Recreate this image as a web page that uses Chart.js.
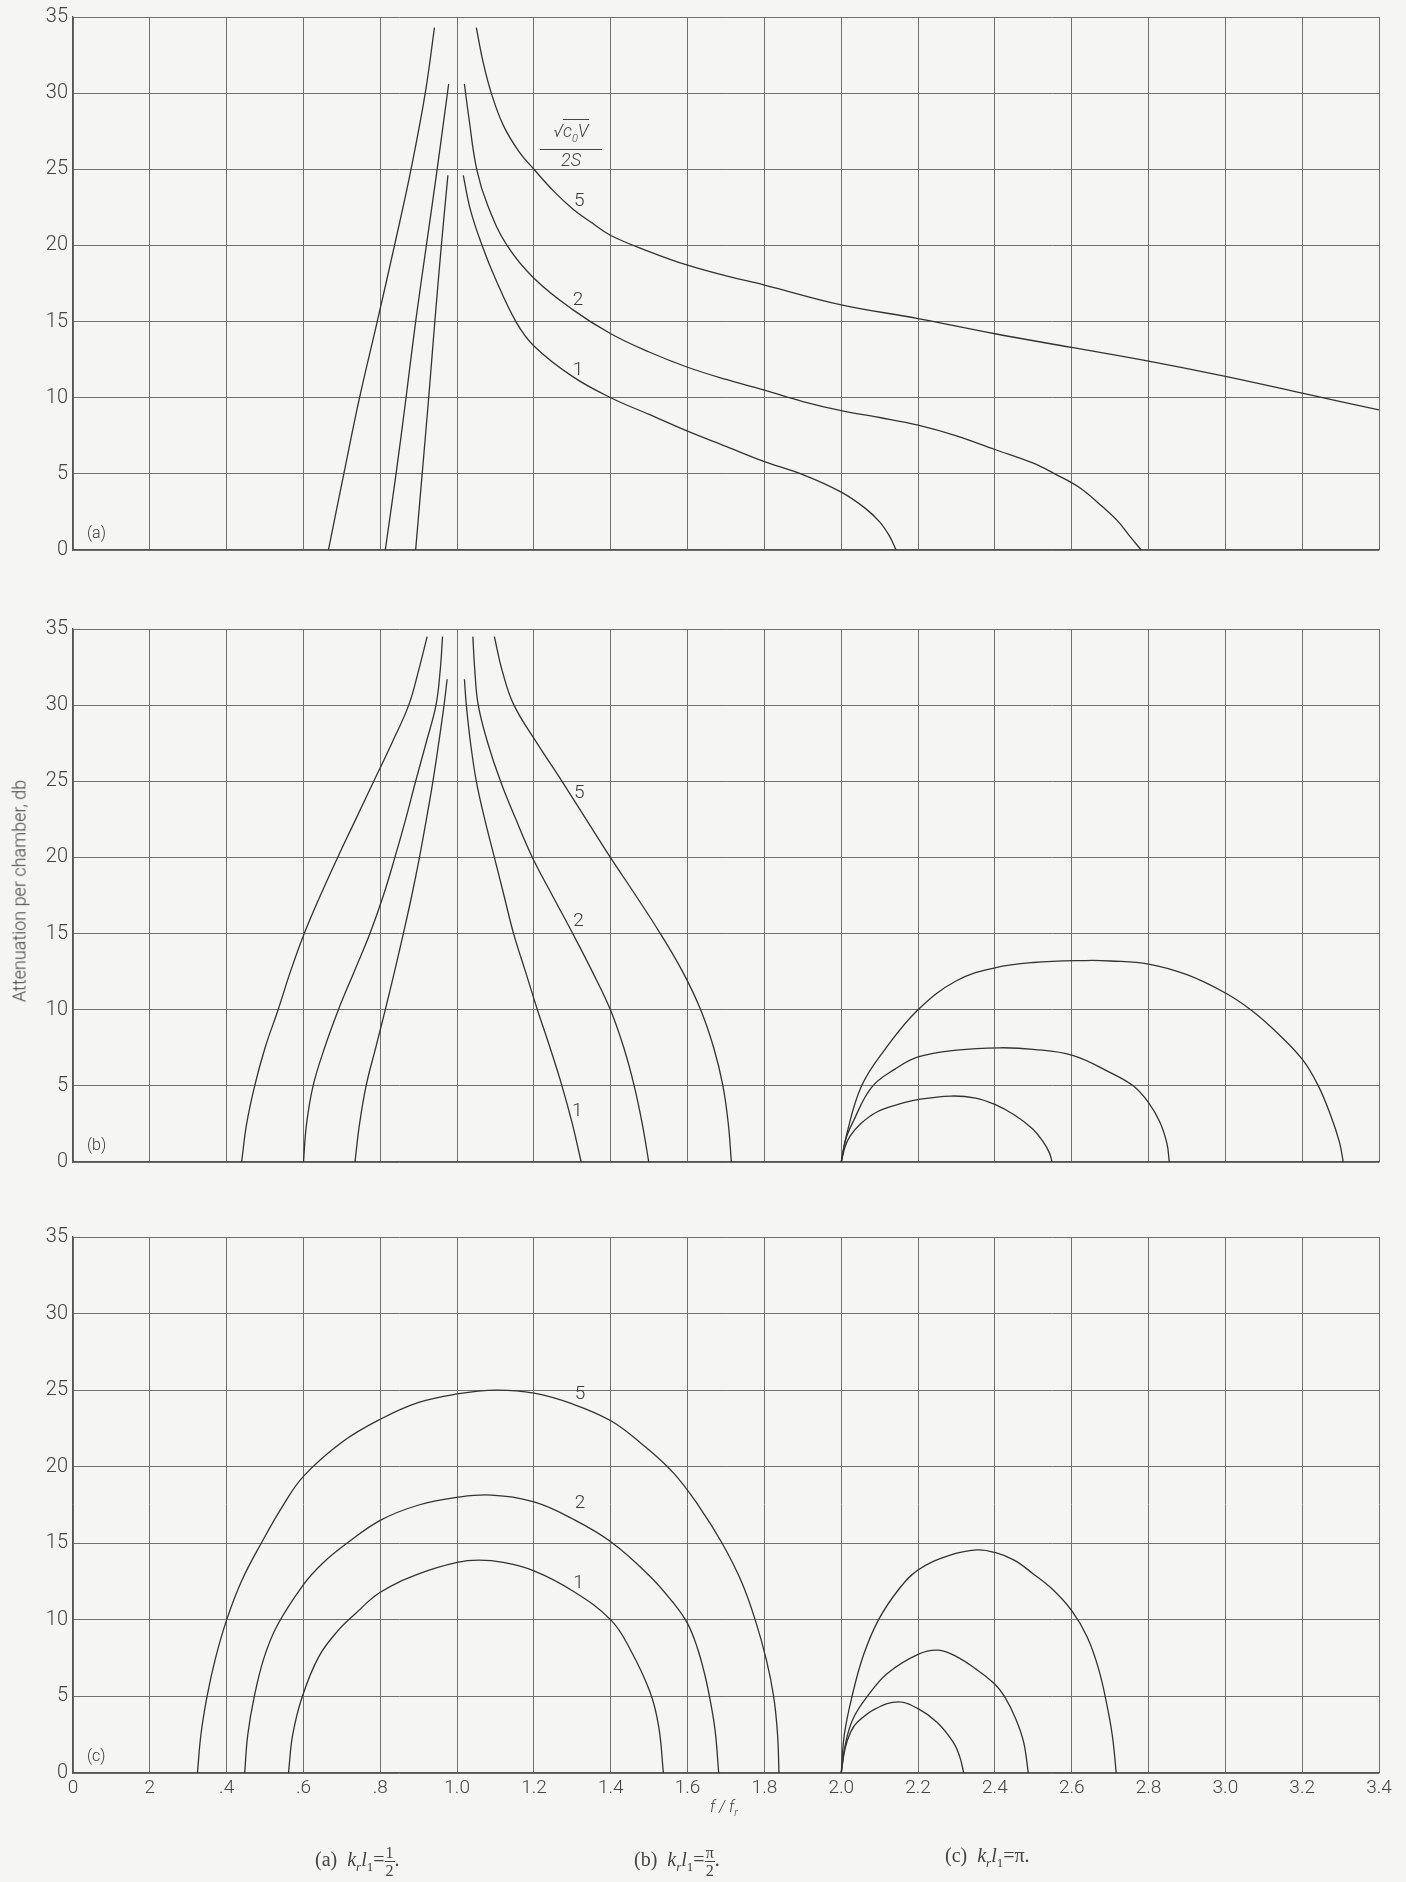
<!DOCTYPE html>
<html>
<head>
<meta charset="utf-8">
<script src="https://cdn.jsdelivr.net/npm/chart.js@4.4.1/dist/chart.umd.min.js"></script>
<style>
  body { margin: 0; background: #f5f5f3; width: 1406px; height: 1882px; position: relative; overflow: hidden;
         font-family: Roboto, "DejaVu Sans", sans-serif; color: #3a3a3a; }
  canvas { position: absolute; left: 0; }
  .ytitle { position: absolute; left: 19px; top: 891px; transform: translate(-50%, -50%) rotate(-90deg);
            white-space: nowrap; font-size: 18px; font-weight: 300; color: #444; }
  .xtitle { position: absolute; left: 710px; top: 1797px; font-size: 16px; font-style: italic; font-weight: 300; color: #444; }
  .hdr { position: absolute; left: 540px; top: 121px; width: 62px; text-align: center; font-size: 18px;
         font-style: italic; font-weight: 300; background: #f5f5f3; line-height: 19px; color: #444; }
  .hdr .num { border-bottom: 1px solid #444; padding-bottom: 1px; }
  .hdr .rad { border-top: 1px solid #444; }
  .cap { position: absolute; top: 1844px; font-family: "Liberation Serif", "DejaVu Serif", serif; font-size: 20px;
         color: #444; white-space: nowrap; }
  .frac { display: inline-block; vertical-align: middle; text-align: center; font-size: 16px; line-height: 17px; }
  .frac span { display: block; }
  .frac .top { border-bottom: 1px solid #444; padding: 0 1px; }
</style>
</head>
<body>
<canvas id="chartA" width="1406" height="600" style="top:0px"></canvas>
<canvas id="chartB" width="1406" height="600" style="top:600px"></canvas>
<canvas id="chartC" width="1406" height="682" style="top:1200px"></canvas>

<div class="ytitle">Attenuation per chamber, db</div>
<div class="xtitle">f / f<sub style="font-size:11px">r</sub></div>
<div class="hdr"><div class="num">√<span class="rad">c<sub style="font-size:11px">0</sub>V</span></div><div>2S</div></div>

<div class="cap" style="left:315px">(a)&nbsp; <i>k<sub style="font-size:13px">r</sub>l</i><sub style="font-size:13px">1</sub>=<span class="frac"><span class="top">1</span><span>2</span></span>.</div>
<div class="cap" style="left:634px">(b)&nbsp; <i>k<sub style="font-size:13px">r</sub>l</i><sub style="font-size:13px">1</sub>=<span class="frac"><span class="top">π</span><span>2</span></span>.</div>
<div class="cap" style="left:945px">(c)&nbsp; <i>k<sub style="font-size:13px">r</sub>l</i><sub style="font-size:13px">1</sub>=π.</div>

<script>
// axis ticks
const xTickLabels = ['0', '2', '.4', '.6', '.8', '1.0', '1.2', '1.4', '1.6', '1.8',
                     '2.0', '2.2', '2.4', '2.6', '2.8', '3.0', '3.2', '3.4'];
const curveParams = ['1', '2', '5'];

// (a) k_r l_1 = 1/2  -- [f/fr, db]
const a1Left  = [[0.892, 0], [0.909, 5], [0.926, 10], [0.942, 15], [0.959, 20], [0.976, 24.6]];
const a2Left  = [[0.813, 0], [0.841, 5], [0.867, 10], [0.892, 15], [0.920, 20], [0.948, 25], [0.978, 30.6]];
const a5Left  = [[0.665, 0], [0.705, 5], [0.746, 10], [0.792, 15], [0.837, 20], [0.880, 25], [0.917, 30], [0.941, 34.3]];
const a1Right = [[1.016, 24.6], [1.035, 22.3], [1.065, 20], [1.1, 17.8], [1.153, 15], [1.2, 13.4], [1.3, 11.4],
                 [1.4, 10], [1.5, 8.9], [1.6, 7.8], [1.7, 6.8], [1.8, 5.8], [1.9, 4.95],
                 [2.0, 3.8], [2.062, 2.75], [2.1, 1.85], [2.125, 0.94], [2.143, 0]];
const a2Right = [[1.019, 30.6], [1.03, 28.5], [1.051, 25], [1.08, 22.6], [1.13, 20], [1.2, 17.85], [1.3, 15.8],
                 [1.4, 14.2], [1.5, 13.0], [1.6, 12.0], [1.7, 11.2], [1.8, 10.5], [1.9, 9.75], [2.0, 9.15],
                 [2.1, 8.7], [2.2, 8.2], [2.3, 7.5], [2.4, 6.6], [2.5, 5.7], [2.556, 5.0], [2.62, 4.1],
                 [2.682, 2.8], [2.72, 1.9], [2.75, 0.94], [2.781, 0]];
const a5Right = [[1.050, 34.3], [1.068, 32], [1.089, 30], [1.12, 27.9], [1.16, 26.2], [1.2, 25], [1.25, 23.6],
                 [1.301, 22.4], [1.35, 21.5], [1.4, 20.65], [1.5, 19.6], [1.6, 18.7], [1.7, 18.0], [1.8, 17.4],
                 [2.0, 16.1], [2.2, 15.2], [2.4, 14.2], [2.6, 13.3], [2.8, 12.4], [3.0, 11.4], [3.2, 10.3], [3.4, 9.2]];
const aLabelAt = [[1.315, 11.8], [1.315, 16.4], [1.318, 22.9]];

// (b) k_r l_1 = pi/2
const b1Left  = [[0.734, 0], [0.746, 2.5], [0.763, 5], [0.788, 7.5], [0.813, 10], [0.837, 12.5], [0.860, 15],
                 [0.882, 17.5], [0.902, 20], [0.920, 22.5], [0.937, 25], [0.952, 27.5], [0.966, 30], [0.974, 31.7]];
const b2Left  = [[0.600, 0], [0.608, 2.5], [0.625, 5], [0.655, 7.5], [0.691, 10], [0.732, 12.5], [0.773, 15],
                 [0.808, 17.5], [0.838, 20], [0.866, 22.5], [0.892, 25], [0.919, 27.5], [0.945, 30], [0.956, 32.3],
                 [0.962, 34.5]];
const b5Left  = [[0.439, 0], [0.452, 2.5], [0.473, 5], [0.500, 7.5], [0.534, 10], [0.566, 12.5], [0.602, 15],
                 [0.644, 17.5], [0.689, 20], [0.736, 22.5], [0.783, 25], [0.830, 27.5], [0.874, 30], [0.900, 32.3],
                 [0.922, 34.5]];
const b1Right = [[1.019, 31.7], [1.024, 30], [1.035, 27.5], [1.050, 25], [1.072, 22.5], [1.097, 20], [1.122, 17.5],
                 [1.147, 15], [1.178, 12.5], [1.209, 10], [1.242, 7.5], [1.273, 5], [1.300, 2.5], [1.323, 0]];
const b2Right = [[1.041, 34.5], [1.046, 32.3], [1.055, 30], [1.080, 27.5], [1.113, 25], [1.153, 22.5], [1.196, 20],
                 [1.248, 17.5], [1.301, 15], [1.352, 12.5], [1.399, 10], [1.434, 7.5], [1.461, 5], [1.482, 2.5],
                 [1.499, 0]];
const b5Right = [[1.097, 34.5], [1.118, 32.2], [1.148, 30], [1.208, 27.5], [1.273, 25], [1.336, 22.5], [1.399, 20],
                 [1.465, 17.5], [1.529, 15], [1.587, 12.5], [1.634, 10], [1.668, 7.5], [1.692, 5], [1.706, 2.5],
                 [1.714, 0]];
const b1Arc   = [[2.0, 0], [2.01, 1.0], [2.023, 1.7], [2.05, 2.5], [2.094, 3.3], [2.15, 3.8], [2.2, 4.1],
                 [2.285, 4.33], [2.35, 4.2], [2.4, 3.78], [2.45, 3.1], [2.497, 2.2], [2.525, 1.35], [2.542, 0.6],
                 [2.549, 0]];
const b2Arc   = [[2.0, 0], [2.012, 1.5], [2.03, 2.6], [2.079, 4.9], [2.14, 6.1], [2.2, 6.9], [2.3, 7.35],
                 [2.413, 7.5], [2.5, 7.4], [2.602, 7.0], [2.698, 5.9], [2.76, 5.0], [2.8, 3.9], [2.83, 2.6],
                 [2.848, 1.2], [2.854, 0]];
const b5Arc   = [[2.0, 0], [2.013, 1.7], [2.053, 5], [2.114, 7.4], [2.2, 10], [2.3, 11.9], [2.4, 12.75],
                 [2.5, 13.1], [2.637, 13.23], [2.7, 13.2], [2.8, 13.0], [2.9, 12.3], [3.0, 11.1], [3.066, 10],
                 [3.13, 8.6], [3.2, 6.75], [3.242, 5], [3.275, 3], [3.297, 1.3], [3.307, 0]];
const bLabelAt = [[1.313, 3.3], [1.316, 15.8], [1.318, 24.2]];

// (c) k_r l_1 = pi
const c1Low  = [[0.561, 0], [0.572, 2.5], [0.597, 5], [0.64, 7.6], [0.69, 9.3], [0.735, 10.4], [0.8, 11.8],
                [0.9, 13.0], [1.0, 13.75], [1.057, 13.9], [1.12, 13.75], [1.2, 13.2], [1.3, 11.9], [1.4, 10.0],
                [1.45, 8.1], [1.502, 5.3], [1.525, 3.0], [1.537, 0]];
const c2Low  = [[0.447, 0], [0.455, 2.5], [0.472, 5], [0.497, 7.5], [0.531, 9.6], [0.6, 12.3], [0.65, 13.7],
                [0.713, 15], [0.8, 16.5], [0.9, 17.5], [1.0, 18.0], [1.089, 18.15], [1.2, 17.7], [1.3, 16.6],
                [1.4, 15.1], [1.5, 12.9], [1.56, 11.2], [1.599, 9.8], [1.625, 8.2], [1.645, 6.4], [1.66, 4.6],
                [1.672, 2.7], [1.681, 0]];
const c5Low  = [[0.324, 0], [0.333, 2.5], [0.349, 5], [0.371, 7.5], [0.4, 10], [0.44, 12.6], [0.49, 15],
                [0.545, 17.4], [0.601, 19.4], [0.7, 21.6], [0.8, 23.1], [0.9, 24.2], [1.0, 24.75], [1.1, 25],
                [1.2, 24.8], [1.3, 24.1], [1.4, 23.0], [1.48, 21.5], [1.563, 19.6], [1.63, 17.4], [1.69, 15],
                [1.74, 12.5], [1.776, 10], [1.805, 7.4], [1.824, 5], [1.834, 2.6], [1.838, 0]];
const c1High = [[2.0, 0], [2.01, 1.6], [2.025, 2.7], [2.043, 3.34], [2.09, 4.2], [2.149, 4.64], [2.2, 4.2],
                [2.25, 3.3], [2.291, 2.03], [2.308, 1.1], [2.319, 0]];
const c2High = [[2.0, 0], [2.01, 1.8], [2.03, 3.5], [2.068, 5], [2.12, 6.5], [2.2, 7.75], [2.253, 8.02],
                [2.3, 7.6], [2.35, 6.8], [2.4, 5.8], [2.425, 5], [2.455, 3.5], [2.475, 2.0], [2.487, 0]];
const c5High = [[2.0, 0], [2.008, 2.5], [2.028, 5], [2.058, 7.7], [2.097, 10], [2.15, 12.0], [2.2, 13.26],
                [2.28, 14.2], [2.353, 14.57], [2.4, 14.4], [2.45, 13.9], [2.5, 13.0], [2.55, 12.0], [2.6, 10.6],
                [2.64, 8.9], [2.67, 6.8], [2.692, 4.4], [2.706, 2.4], [2.716, 0]];
const cLabelAt = [[1.316, 12.4], [1.32, 17.6], [1.32, 24.7]];

const ink = '#333333';
const gridInk = '#707070';

function toPoints(arr) {
    return arr.map(p => ({x: p[0], y: p[1]}));
}

// numbers on the curves + the panel letter
const curveLabels = {
    id: 'curveLabels',
    afterDatasetsDraw(chart, args, opts) {
        const {ctx, chartArea, scales} = chart;
        ctx.save();
        ctx.fillStyle = '#3a3a3a';
        ctx.font = '300 19px Roboto, sans-serif';
        ctx.textAlign = 'center';
        ctx.textBaseline = 'middle';
        opts.at.forEach((p, i) => {
            ctx.fillText(curveParams[i], scales.x.getPixelForValue(p[0]), scales.y.getPixelForValue(p[1]));
        });
        ctx.font = '300 16px Roboto, sans-serif';
        ctx.textAlign = 'left';
        ctx.fillText(opts.tag, chartArea.left + 14, chartArea.bottom - 16);
        ctx.restore();
    }
};

function makePanel(id, curves, labelAt, tag, showX, padding) {
    const ctx = document.getElementById(id).getContext('2d');
    return new Chart(ctx, {
        type: 'line',
        data: {
            datasets: curves.map(c => ({
                data: toPoints(c),
                borderColor: ink,
                borderWidth: 1.3,
                pointRadius: 0,
                fill: false,
                tension: 0.4
            }))
        },
        options: {
            responsive: false,
            animation: false,
            layout: {padding: padding},
            plugins: {
                legend: {display: false},
                tooltip: {enabled: false},
                curveLabels: {at: labelAt, tag: tag}
            },
            scales: {
                x: {
                    type: 'linear',
                    min: 0,
                    max: 3.4,
                    grid: {color: gridInk, lineWidth: 1, drawTicks: false},
                    border: {color: '#555', width: 1.3},
                    ticks: {
                        display: showX,
                        stepSize: 0.2,
                        autoSkip: false,
                        maxRotation: 0,
                        padding: 4,
                        color: '#444',
                        font: {family: 'Roboto', size: 19, weight: 300},
                        callback: v => xTickLabels[Math.round(v / 0.2)]
                    },
                    afterFit: s => { s.height = showX ? 40 : 0; }
                },
                y: {
                    min: 0,
                    max: 35,
                    grid: {color: gridInk, lineWidth: 1, drawTicks: false},
                    border: {color: '#555', width: 1.3},
                    ticks: {
                        stepSize: 5,
                        padding: 5,
                        color: '#444',
                        font: {family: 'Roboto', size: 20, weight: 300}
                    },
                    afterFit: s => { s.width = 73; }
                }
            }
        },
        plugins: [curveLabels]
    });
}

makePanel('chartA', [a1Left, a2Left, a5Left, a1Right, a2Right, a5Right], aLabelAt, '(a)', false,
          {top: 14, right: 27, bottom: 50, left: 0});
makePanel('chartB', [b1Left, b2Left, b5Left, b1Right, b2Right, b5Right, b1Arc, b2Arc, b5Arc], bLabelAt, '(b)', false,
          {top: 29, right: 27, bottom: 38, left: 0});
makePanel('chartC', [c1Low, c2Low, c5Low, c1High, c2High, c5High], cLabelAt, '(c)', true,
          {top: 37, right: 27, bottom: 69, left: 0});
</script>
</body>
</html>
